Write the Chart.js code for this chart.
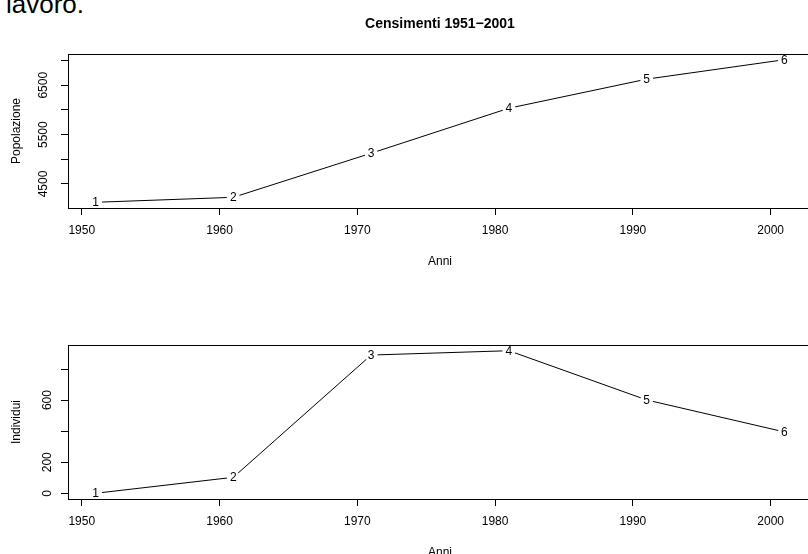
<!DOCTYPE html>
<html>
<head>
<meta charset="utf-8">
<script src="https://cdn.jsdelivr.net/npm/chart.js@4/dist/chart.umd.min.js"></script>
<style>
  html, body { margin: 0; padding: 0; background: #fff; overflow: hidden; width: 808px; height: 554px; }
  #page { position: relative; width: 808px; height: 554px; overflow: hidden; background: #fff; }
  .note { position: absolute; left: 6px; top: -9px; font: 26px/26px "Liberation Sans", Arial, sans-serif; color: #000; white-space: nowrap; }
  .panel { position: absolute; left: 0; width: 830px; height: 291px; }
</style>
</head>
<body>
<div id="page">
  <div class="note">lavoro.</div>
  <div class="panel" style="top:0"><canvas id="popChart" width="830" height="291"></canvas></div>
  <div class="panel" style="top:291px"><canvas id="indChart" width="830" height="291"></canvas></div>
</div>
<script>
// Census years and the two measured series
const years = [1951, 1961, 1971, 1981, 1991, 2001];
const pointLabels = ['1', '2', '3', '4', '5', '6'];
const popolazione = [4129, 4230, 5123, 6035, 6624, 7018];
const individui = [0, 103, 890, 918, 601, 395];

// Axis ticks and the ones that carry a printed label
const xTicks = [1950, 1960, 1970, 1980, 1990, 2000];
const popTicks = [4500, 5000, 5500, 6000, 6500, 7000];
const popTickLabels = [4500, 5500, 6500];
const indTicks = [0, 200, 400, 600, 800];
const indTickLabels = [0, 200, 600];

const titleText = 'Censimenti 1951\u22122001';
const FONT = '"Liberation Sans", Arial, Helvetica, sans-serif';

Chart.defaults.font.family = FONT;
Chart.defaults.font.size = 12;
Chart.defaults.color = '#000';

// R-style 4% range extension
function padRange(vals) {
  const lo = Math.min(...vals), hi = Math.max(...vals);
  const p = (hi - lo) * 0.04;
  return { min: lo - p, max: hi + p };
}

// Box around the plot region
const boxPlugin = {
  id: 'plotBox',
  afterDraw(chart) {
    const { ctx, chartArea: a } = chart;
    ctx.save();
    ctx.strokeStyle = '#000';
    ctx.lineWidth = 1;
    ctx.strokeRect(Math.round(a.left) + 0.5, Math.round(a.top) + 0.5,
                   Math.round(a.right - a.left), Math.round(a.bottom - a.top));
    ctx.restore();
  }
};

// Number labels on each point, with a small gap cut out of the line
const pointTextPlugin = {
  id: 'pointText',
  afterDatasetsDraw(chart) {
    const { ctx } = chart;
    const meta = chart.getDatasetMeta(0);
    ctx.save();
    meta.data.forEach((pt, i) => {
      ctx.fillStyle = '#fff';
      ctx.beginPath();
      ctx.arc(pt.x, pt.y, 6.5, 0, Math.PI * 2);
      ctx.fill();
      ctx.fillStyle = '#000';
      ctx.font = '12px ' + FONT;
      ctx.textAlign = 'center';
      ctx.textBaseline = 'middle';
      ctx.fillText(pointLabels[i], pt.x, pt.y + 0.5);
    });
    ctx.restore();
  }
};

const mainTitlePlugin = {
  id: 'mainTitle',
  afterDraw(chart) {
    const { ctx, chartArea: a } = chart;
    ctx.save();
    ctx.fillStyle = '#000';
    ctx.font = 'bold 14px ' + FONT;
    ctx.textAlign = 'center';
    ctx.textBaseline = 'middle';
    ctx.fillText(titleText, (a.left + a.right) / 2, 24);
    ctx.restore();
  }
};

function makeChart(canvasId, values, yTitle, yTicks, yTickLabels, yLabelPad, extraPlugins) {
  const yr = padRange(values);
  const xr = padRange(years);
  return new Chart(document.getElementById(canvasId), {
    type: 'scatter',
    data: {
      datasets: [{
        data: years.map((y, i) => ({ x: y, y: values[i] })),
        showLine: true,
        borderColor: '#000',
        borderWidth: 1,
        pointRadius: 0,
        pointHoverRadius: 0,
        tension: 0
      }]
    },
    options: {
      responsive: false,
      animation: false,
      layout: { padding: { top: 54, right: 18, bottom: 0, left: 0 } },
      plugins: { legend: { display: false }, tooltip: { enabled: false } },
      scales: {
        x: {
          type: 'linear',
          position: 'bottom',
          min: xr.min,
          max: xr.max,
          afterBuildTicks: s => { s.ticks = xTicks.map(v => ({ value: v })); },
          afterFit: s => { s.height = 83; },
          grid: { display: true, drawOnChartArea: false, drawTicks: true, tickLength: 7, tickColor: '#000', tickWidth: 1 },
          border: { display: true, color: '#000', width: 1 },
          ticks: { autoSkip: false, maxRotation: 0, minRotation: 0, padding: 8.5, color: '#000',
                   font: { size: 12 }, callback: v => String(v) },
          title: { display: true, text: 'Anni', color: '#000', font: { size: 12 }, padding: { top: 0, bottom: 22 } }
        },
        y: {
          type: 'linear',
          position: 'left',
          min: yr.min,
          max: yr.max,
          afterBuildTicks: s => { s.ticks = yTicks.map(v => ({ value: v })); },
          afterFit: s => { s.width = 68; },
          grid: { display: true, drawOnChartArea: false, drawTicks: true, tickLength: 7, tickColor: '#000', tickWidth: 1 },
          border: { display: true, color: '#000', width: 1 },
          ticks: { autoSkip: false, minRotation: 90, maxRotation: 90, crossAlign: 'center', padding: yLabelPad,
                   color: '#000', font: { size: 12 },
                   callback: v => (yTickLabels.includes(v) ? String(v) : '') },
          title: { display: true, text: yTitle, color: '#000', font: { size: 12 }, padding: { top: 9, bottom: 0 } }
        }
      }
    },
    plugins: [pointTextPlugin, boxPlugin, ...extraPlugins]
  });
}

makeChart('popChart', popolazione, 'Popolazione', popTicks, popTickLabels, 4, [mainTitlePlugin]);
makeChart('indChart', individui, 'Individui', indTicks, indTickLabels, 3, []);
</script>
</body>
</html>
